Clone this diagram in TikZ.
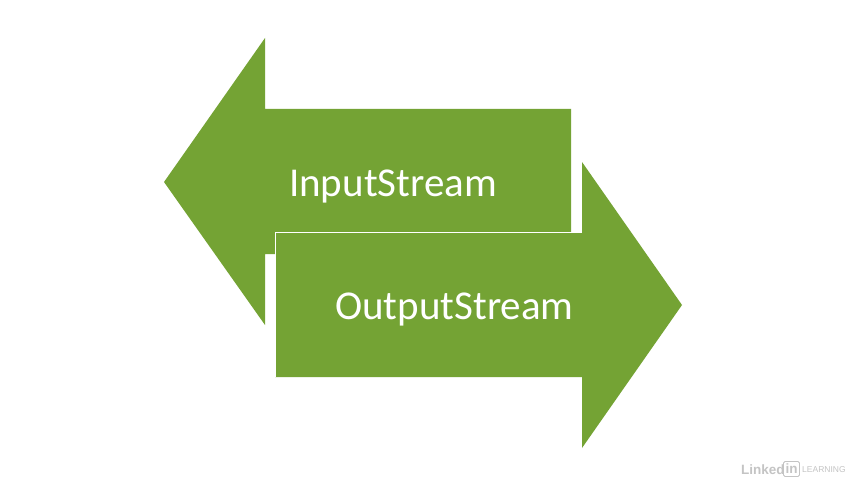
\documentclass[tikz,border=0pt]{standalone}
\usepackage{fontspec}
\setmainfont{Carlito}
\newfontfamily\logofont{Liberation Sans}
\definecolor{arrowgreen}{HTML}{74A334}
\definecolor{logogray}{HTML}{C4C4C4}
\tikzset{
    arrowshape/.style={fill=arrowgreen, draw=none},
    streamlabel/.style={text=white, font=\fontsize{41}{41}\selectfont, inner sep=0pt},
    logotext/.style={text=logogray, inner sep=0pt, font=\logofont\bfseries\fontsize{13.5}{13.5}\selectfont}
}
\begin{document}
\begin{tikzpicture}[x=1pt, y=-1pt]
    \useasboundingbox[fill=white] (0,0) rectangle (845,484);
    %freccia sinistra
    \fill[arrowshape] (164,182)--(265,38)--(265,109)--(571,109)--(571,254)--(265,254)--(265,325)--cycle;
    %freccia destra
    \fill[arrowshape] (275,232)--(582,232)--(582,162)--(682,305)--(582,448)--(582,377)--(275,377)--cycle;
    %bordo bianco
    \draw[white, line width=1pt] (275,377)--(275,232)--(582,232);
    %label
    \node[streamlabel] (input) at (393,186) {InputStream};
    \node[streamlabel] (output) at (454.5,309) {OutputStream};
    %logo
    \node[logotext, anchor=west] (linked) at (741,470) {Linked};
    \node[logotext, draw=logogray, rounded corners=1.5pt, line width=0.9pt, minimum width=16pt, minimum height=15pt] (inbox) at (791.5,469) {in};
    \node[logotext, anchor=west, font=\logofont\fontsize{8.5}{8.5}\selectfont] (learning) at (802,470) {LEARNING};
\end{tikzpicture}
\end{document}
